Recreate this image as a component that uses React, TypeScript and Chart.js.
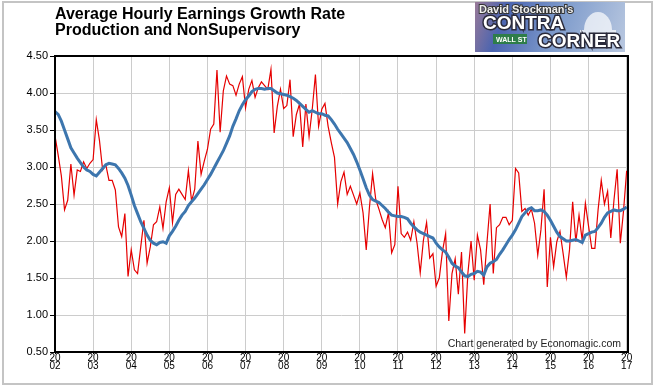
import React, { useEffect, useRef } from "react";
import { Chart, registerables } from "chart.js";

Chart.register(...registerables);

const startYear = 2002;
const yearTicks = [2002, 2003, 2004, 2005, 2006, 2007, 2008, 2009, 2010, 2011, 2012, 2013, 2014, 2015, 2016, 2017];
const yTickValues = [0.5, 1.0, 1.5, 2.0, 2.5, 3.0, 3.5, 4.0, 4.5];

// Monthly growth rate (red), Jan 2002 .. Jan 2017
const monthlyRate = [
  3.42, 3.16, 2.88, 2.42, 2.55, 3.04, 2.62, 2.96, 2.94, 3.07, 2.98, 3.05,
  3.10, 3.64, 3.36, 2.96, 3.03, 2.82, 2.82, 2.69, 2.19, 2.06, 2.37, 1.52,
  1.88, 1.61, 1.56, 1.92, 2.28, 1.70, 1.92, 2.22, 2.26, 2.46, 2.17, 2.53,
  2.72, 2.25, 2.63, 2.70, 2.63, 2.56, 2.95, 2.54, 2.70, 3.35, 2.90, 3.08,
  3.24, 3.51, 3.58, 4.31, 3.47, 4.03, 4.23, 4.12, 4.10, 3.97, 4.12, 4.22,
  3.80, 4.05, 4.17, 3.94, 4.07, 4.15, 4.10, 4.05, 4.32, 3.46, 3.82, 4.05,
  3.79, 3.83, 4.18, 3.41, 3.71, 3.85, 3.27, 3.85, 3.41, 3.78, 4.25, 3.55,
  3.78, 3.86, 3.55, 3.33, 3.13, 2.50, 2.80, 2.93, 2.63, 2.74, 2.62, 2.50,
  2.65, 2.38, 1.88, 2.45, 2.91, 2.56, 2.43, 2.29, 2.18, 2.38, 1.84, 1.95,
  2.74, 2.10, 2.05, 2.12, 2.01, 2.26, 1.97, 1.57, 2.01, 2.25, 1.77, 1.83,
  1.39, 1.50, 1.86, 2.10, 0.92, 1.56, 1.76, 1.28, 1.85, 0.75, 1.56, 2.00,
  1.47, 2.08, 1.88, 1.41, 1.97, 2.50, 1.56, 2.18, 2.22, 2.32, 2.32, 2.22,
  2.28, 2.98, 2.92, 2.40, 2.44, 2.35, 2.43, 2.24, 1.81, 2.15, 2.70, 1.38,
  2.05, 1.65, 1.99, 2.13, 1.83, 1.51, 1.88, 2.53, 1.99, 2.35, 2.01, 2.51,
  2.20, 1.90, 1.90, 2.42, 2.82, 2.50, 2.67, 2.04, 2.55, 2.97, 1.97, 2.40,
  2.95,
];

// Smoothed growth rate (blue)
const smoothedRate = [
  3.75, 3.71, 3.62, 3.50, 3.38, 3.26, 3.19, 3.12, 3.06, 3.00, 2.96, 2.94,
  2.90, 2.88, 2.93, 2.98, 3.03, 3.05, 3.04, 3.03, 2.98, 2.92, 2.85, 2.75,
  2.62, 2.48, 2.37, 2.26, 2.17, 2.08, 2.01, 1.97, 1.95, 1.98, 1.99, 1.97,
  2.07, 2.13, 2.20, 2.28, 2.35, 2.40, 2.48, 2.53, 2.58, 2.64, 2.70, 2.76,
  2.83, 2.90, 2.98, 3.06, 3.14, 3.22, 3.32, 3.42, 3.55, 3.65, 3.76, 3.84,
  3.91, 3.96, 4.02, 4.05, 4.06, 4.06, 4.05, 4.06, 4.06, 4.03, 4.00, 3.99,
  3.98, 3.97, 3.95, 3.93, 3.90, 3.86, 3.82, 3.78, 3.74, 3.76, 3.74, 3.72,
  3.72, 3.70, 3.69, 3.64, 3.58, 3.51, 3.45, 3.39, 3.33, 3.25, 3.17, 3.07,
  2.96, 2.84, 2.72, 2.62, 2.56, 2.54, 2.52, 2.48, 2.44, 2.39, 2.35, 2.34,
  2.33, 2.33, 2.32, 2.30, 2.24, 2.19, 2.15, 2.12, 2.10, 2.08, 2.06, 2.04,
  1.97, 1.92, 1.88, 1.85, 1.78, 1.70, 1.66, 1.64, 1.58, 1.53, 1.52, 1.55,
  1.56, 1.59, 1.58, 1.54, 1.65, 1.70, 1.72, 1.75, 1.82, 1.88, 1.95, 2.02,
  2.08, 2.15, 2.24, 2.33, 2.38, 2.43, 2.45, 2.41, 2.41, 2.42, 2.40, 2.35,
  2.28, 2.20, 2.12, 2.06, 2.03, 2.00, 2.00, 2.01, 2.02, 2.00, 1.98, 2.08,
  2.10, 2.12, 2.13, 2.18, 2.24, 2.32, 2.38, 2.40, 2.42, 2.41, 2.41, 2.43,
  2.46,
];

const titleLines = ["Average Hourly Earnings Growth Rate", "Production and NonSupervisory"];
const watermark = "Chart generated by Economagic.com";

const FONT = '"Liberation Sans", Arial, Helvetica, sans-serif';

const decorPlugin = {
  id: "decor",
  beforeDraw(chart: any) {
    const ctx = chart.ctx;
    ctx.save();
    ctx.fillStyle = "#ffffff";
    ctx.fillRect(0, 0, chart.width, chart.height);
    ctx.strokeStyle = "#c4c4c4";
    ctx.lineWidth = 2;
    ctx.strokeRect(3, 2, 649, 382);
    ctx.restore();
  },
  afterDatasetsDraw(chart: any) {
    const ctx = chart.ctx;
    const a = chart.chartArea;
    ctx.save();
    ctx.strokeStyle = "#000";
    ctx.lineWidth = 2;
    ctx.strokeRect(a.left, a.top, a.right - a.left, a.bottom - a.top);
    ctx.restore();
  },
  afterDraw(chart: any) {
    const ctx = chart.ctx;
    const a = chart.chartArea;
    ctx.save();
    // title
    ctx.fillStyle = "#000";
    ctx.font = `bold 16px ${FONT}`;
    ctx.textAlign = "left";
    ctx.textBaseline = "alphabetic";
    ctx.fillText(titleLines[0], 55, 19);
    ctx.fillText(titleLines[1], 55, 35);

    // watermark
    ctx.font = `10.5px ${FONT}`;
    ctx.fillStyle = "#222";
    ctx.textAlign = "right";
    ctx.fillText(watermark, a.right - 7, a.bottom - 5);

    // logo
    const lx = 475, ly = 2, lw = 150, lh = 50;
    const g = ctx.createLinearGradient(lx, ly, lx + lw, ly + lh);
    g.addColorStop(0, "#9a7a98");
    g.addColorStop(0.2, "#4a64b0");
    g.addColorStop(0.55, "#7f9ccc");
    g.addColorStop(1, "#b9c8e0");
    ctx.fillStyle = g;
    ctx.fillRect(lx, ly, lw, lh);
    ctx.fillStyle = "rgba(255,255,255,0.7)";
    ctx.beginPath();
    ctx.ellipse(598, 30, 14, 18, 0, Math.PI, 0);
    ctx.fill();
    ctx.fillRect(580, 30, 36, 14);
    ctx.fillStyle = "#2e7d4a";
    ctx.fillRect(493, 34, 34, 10);
    ctx.font = `bold 7px ${FONT}`;
    ctx.fillStyle = "#fff";
    ctx.textAlign = "left";
    ctx.fillText("WALL ST", 496, 42);
    ctx.font = `bold 11px ${FONT}`;
    ctx.lineWidth = 2;
    ctx.strokeStyle = "#333";
    ctx.strokeText("David Stockman's", 479, 13);
    ctx.fillStyle = "#f0f0f0";
    ctx.fillText("David Stockman's", 479, 13);
    ctx.font = `bold 19px ${FONT}`;
    ctx.lineWidth = 3;
    ctx.strokeStyle = "#2a2a3a";
    ctx.strokeText("CONTRA", 483, 29);
    ctx.fillStyle = "#fff";
    ctx.fillText("CONTRA", 483, 29);
    ctx.strokeText("CORNER", 538, 47);
    ctx.fillText("CORNER", 538, 47);
    ctx.restore();
  },
};

export default function App() {
  const canvasRef = useRef<HTMLCanvasElement | null>(null);

  useEffect(() => {
    if (!canvasRef.current) return;
    const toPoints = (arr: number[]) =>
      arr.map((v, i) => ({ x: startYear + i / 12, y: v }));

    const chart = new Chart(canvasRef.current, {
      type: "line",
      data: {
        datasets: [
          {
            label: "Smoothed",
            data: toPoints(smoothedRate),
            borderColor: "#3d76ae",
            borderWidth: 3,
            pointRadius: 0,
            tension: 0,
            order: 0,
          },
          {
            label: "Growth Rate",
            data: toPoints(monthlyRate),
            borderColor: "#e60000",
            borderWidth: 1.2,
            pointRadius: 0,
            tension: 0,
            order: 1,
          },
        ],
      },
      options: {
        responsive: false,
        animation: false,
        events: [],
        layout: { padding: { left: 0, right: 28, top: 56, bottom: 0 } },
        plugins: {
          legend: { display: false },
          title: { display: false },
          tooltip: { enabled: false },
        },
        scales: {
          x: {
            type: "linear",
            min: yearTicks[0],
            max: yearTicks[yearTicks.length - 1] + 0.035,
            afterFit(scale: any) {
              scale.height = 38;
            },
            afterBuildTicks(scale: any) {
              scale.ticks = yearTicks.map((v) => ({ value: v }));
            },
            border: { display: false },
            grid: {
              color: "#cccccc",
              lineWidth: 1,
              drawTicks: true,
              tickLength: 2,
              tickColor: "#000",
            },
            ticks: {
              autoSkip: false,
              maxRotation: 0,
              padding: 1,
              color: "#000",
              font: { family: FONT, size: 10, lineHeight: 0.72 },
              callback: (v: any) => {
                const s = String(Math.round(Number(v)));
                return [s.slice(0, 2), s.slice(2)];
              },
            },
          },
          y: {
            min: yTickValues[0],
            max: yTickValues[yTickValues.length - 1],
            afterFit(scale: any) {
              scale.width = 55;
            },
            afterBuildTicks(scale: any) {
              scale.ticks = yTickValues.map((v) => ({ value: v }));
            },
            border: { display: false },
            grid: {
              color: "#cccccc",
              lineWidth: 1,
              tickLength: 5,
              tickColor: "#000",
            },
            ticks: {
              padding: 2,
              color: "#000",
              font: { family: FONT, size: 11 },
              callback: (v: any) => Number(v).toFixed(2),
            },
          },
        },
      },
      plugins: [decorPlugin],
    } as any);

    return () => chart.destroy();
  }, []);

  return (
    <div style={{ position: "fixed", left: 0, top: 0, width: 656, height: 390, background: "#fff" }}>
      <canvas ref={canvasRef} width={656} height={390} style={{ width: 656, height: 390, display: "block" }} />
    </div>
  );
}
